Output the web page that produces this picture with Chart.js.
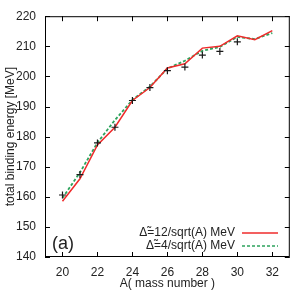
<!DOCTYPE html>
<html lang="en">
<head>
  <meta charset="UTF-8" />
  <title>Binding energy</title>
  <script src="https://cdn.jsdelivr.net/npm/chart.js"></script>
  <style>
    body { margin: 0; background: #fff; }
    canvas { display: block; }
  </style>
</head>
<body>
  <canvas id="bindingChart" width="295" height="298"></canvas>

  <script>
    // values
    const massNumbers = [20, 21, 22, 23, 24, 25, 26, 27, 28, 29, 30, 31, 32];
    const delta12 = [158.5, 166.0, 177.2, 183.1, 192.0, 196.3, 202.8, 204.2, 209.4, 210.0, 213.5, 212.2, 215.2];
    const delta4 = [159.6, 168.1, 178.0, 185.5, 192.2, 196.6, 202.6, 205.2, 208.5, 209.8, 213.1, 212.4, 214.4];
    const expMass = [20, 21, 22, 23, 24, 25, 26, 27, 28, 29, 30];
    const expEnergy = [160.6, 167.4, 177.9, 183.1, 192.0, 196.3, 201.9, 203.1, 207.1, 208.3, 211.5];
    const xTicks = [20, 22, 24, 26, 28, 30, 32];
    const yTicks = [140, 150, 160, 170, 180, 190, 200, 210, 220];

    const legendNames = ['\u0394\u0303=12/sqrt(A) MeV', '\u0394\u0303=4/sqrt(A) MeV'];
    const redColor = '#ef2b2b';
    const greenColor = '#2ca35c';
    const fontFamily = '"Liberation Sans", Arial, sans-serif';

    const toPoints = (xs, ys) => xs.map((x, i) => ({ x: x, y: ys[i] }));

    // frame, inward ticks on all sides, legend and panel tag
    const framePlugin = {
      id: 'frame',
      afterDraw(chart) {
        const ctx = chart.ctx;
        const a = chart.chartArea;
        const xs = chart.scales.x, ys = chart.scales.y;
        const tl = 5;
        ctx.save();
        ctx.strokeStyle = '#000';
        ctx.lineWidth = 1;
        ctx.strokeRect(a.left + 0.5, a.top + 0.5, a.right - a.left - 1, a.bottom - a.top - 1);
        ctx.beginPath();
        xTicks.forEach(v => {
          const px = Math.round(xs.getPixelForValue(v)) + 0.5;
          ctx.moveTo(px, a.bottom); ctx.lineTo(px, a.bottom - tl);
          ctx.moveTo(px, a.top); ctx.lineTo(px, a.top + tl);
        });
        yTicks.forEach(v => {
          const py = Math.round(ys.getPixelForValue(v)) + 0.5;
          ctx.moveTo(a.left, py); ctx.lineTo(a.left + tl, py);
          ctx.moveTo(a.right, py); ctx.lineTo(a.right - tl, py);
        });
        ctx.stroke();

        // legend
        ctx.font = '12px ' + fontFamily;
        ctx.fillStyle = '#222';
        ctx.textAlign = 'right';
        ctx.textBaseline = 'middle';
        const rows = [233, 246];
        const styles = [{ c: redColor, d: [] }, { c: greenColor, d: [3, 2] }];
        rows.forEach((y, i) => {
          ctx.fillText(legendNames[i], 235, y);
          ctx.beginPath();
          ctx.strokeStyle = styles[i].c;
          ctx.lineWidth = 1.5;
          ctx.setLineDash(styles[i].d);
          ctx.moveTo(242, y); ctx.lineTo(278, y);
          ctx.stroke();
        });
        ctx.setLineDash([]);

        ctx.font = '18px ' + fontFamily;
        ctx.textAlign = 'left';
        ctx.fillStyle = '#222';
        ctx.fillText('(a)', 52, 244);
        ctx.restore();
      }
    };

    const ctx = document.getElementById('bindingChart').getContext('2d');
    new Chart(ctx, {
      type: 'scatter',
      data: {
        datasets: [{
          label: 'exp',
          data: toPoints(expMass, expEnergy),
          showLine: false,
          pointStyle: 'cross',
          pointRadius: 3.5,
          borderColor: '#1a1a1a',
          backgroundColor: '#1a1a1a',
          pointBorderWidth: 1.2
        }, {
          label: legendNames[0],
          data: toPoints(massNumbers, delta12),
          showLine: true,
          borderColor: redColor,
          borderWidth: 1.5,
          pointRadius: 0,
          fill: false
        }, {
          label: legendNames[1],
          data: toPoints(massNumbers, delta4),
          showLine: true,
          borderColor: greenColor,
          borderWidth: 1.8,
          borderDash: [3, 2],
          pointRadius: 0,
          fill: false
        }]
      },
      options: {
        responsive: false,
        animation: false,
        devicePixelRatio: 1,
        layout: { padding: { top: 10, right: 3, left: 0, bottom: 0 } },
        plugins: { legend: { display: false }, tooltip: { enabled: false } },
        scales: {
          x: {
            type: 'linear',
            min: 19,
            max: 33,
            afterBuildTicks: s => { s.ticks = xTicks.map(v => ({ value: v })); },
            afterFit: s => { s.height = 41; },
            grid: { display: false, drawTicks: false },
            border: { display: false },
            ticks: { padding: 8, color: '#222', font: { size: 12, family: fontFamily } },
            title: {
              display: true,
              text: 'A( mass number )',
              color: '#222',
              font: { size: 12, family: fontFamily },
              padding: { top: 0, bottom: 7 }
            }
          },
          y: {
            min: 140,
            max: 220,
            afterBuildTicks: s => { s.ticks = yTicks.map(v => ({ value: v })); },
            afterFit: s => { s.width = 45; },
            grid: { display: false, drawTicks: false },
            border: { display: false },
            ticks: { padding: 9, color: '#222', font: { size: 12, family: fontFamily } },
            title: {
              display: true,
              text: 'total binding energy [MeV]',
              color: '#222',
              font: { size: 12, family: fontFamily },
              padding: { top: 3, bottom: 0 }
            }
          }
        }
      },
      plugins: [framePlugin]
    });
  </script>
</body>
</html>
